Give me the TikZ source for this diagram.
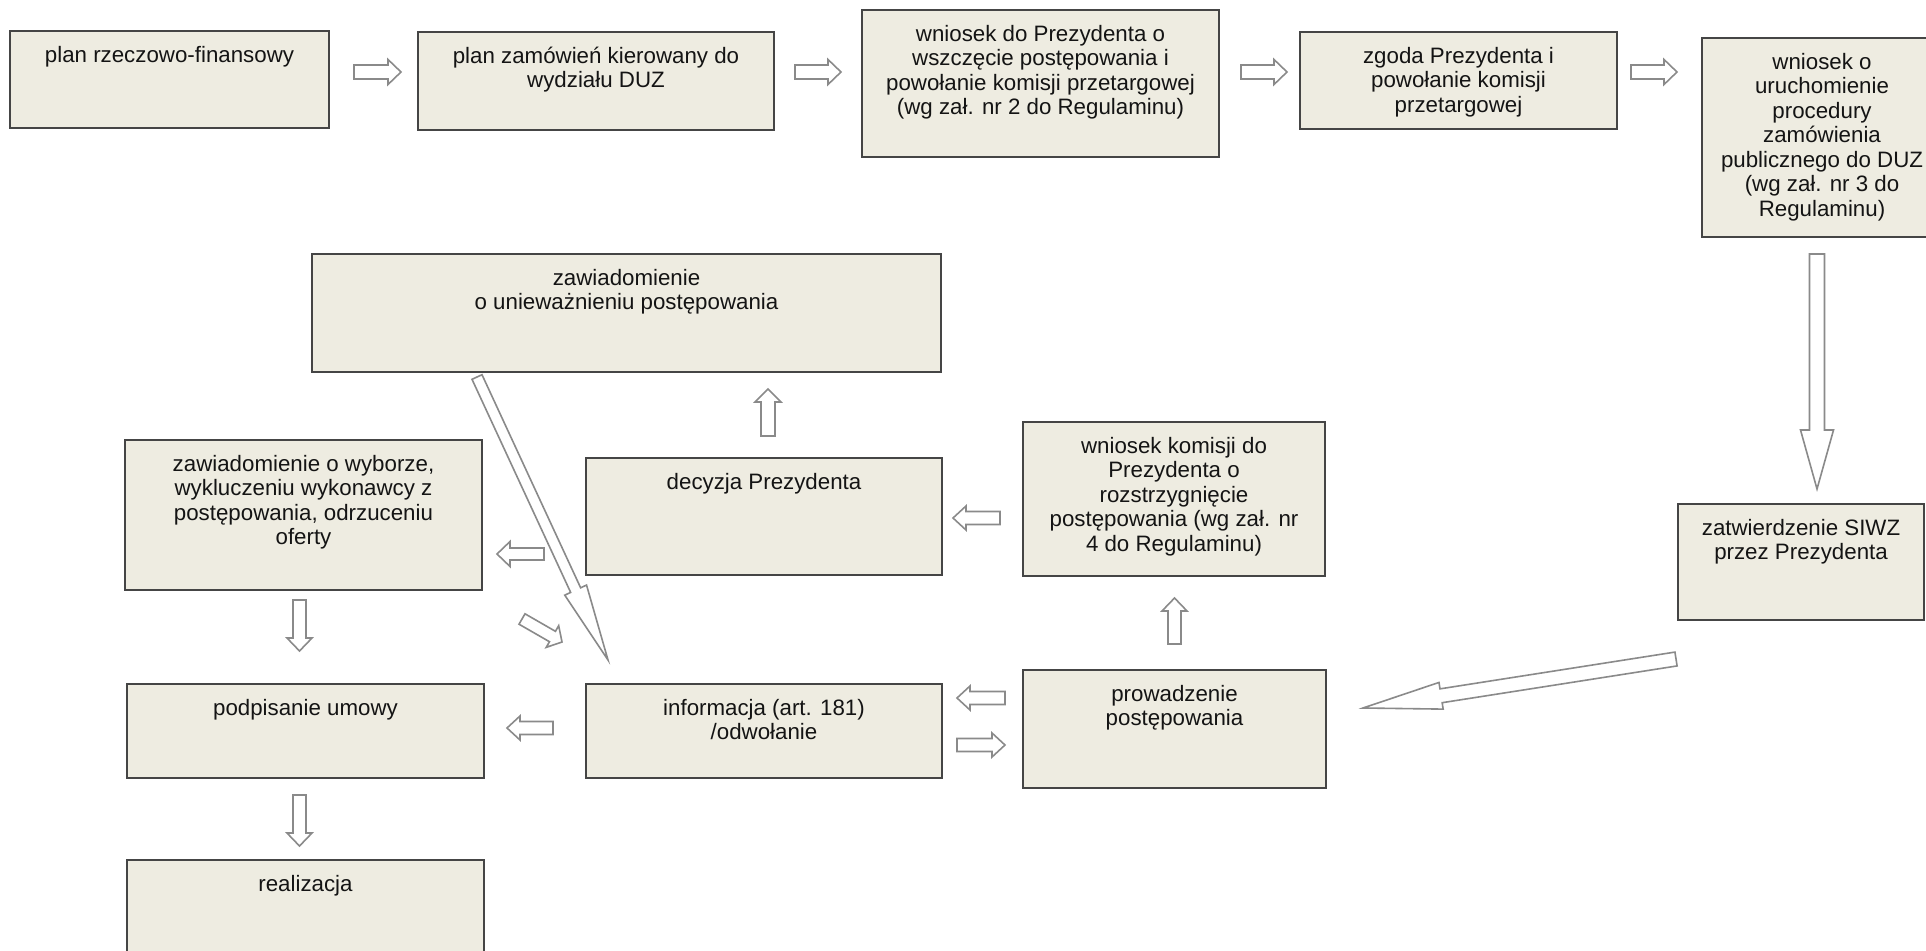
\documentclass[tikz,border=0pt]{standalone}
\usepackage{fontspec}
\setmainfont{Liberation Sans}
\definecolor{boxfill}{HTML}{EEECE1}
\definecolor{boxline}{HTML}{454545}
\definecolor{arrline}{HTML}{8A8A8A}
\tikzset{
 box/.style={draw=boxline, fill=boxfill, line width=2pt, inner sep=0pt, outer sep=0pt},
 txt/.style={align=center, inner sep=0pt, font=\fontsize{22.3}{24.5}\selectfont, text=black!92},
 blockarrow/.style={draw=arrline, fill=white, line width=1.6pt, line join=miter}
}
% box: name, x1, y1, x2, y2, text
\newcommand\mkbox[6]{%
 \pgfmathsetmacro\mbw{#4-#2}\pgfmathsetmacro\mbh{#5-#3}%
 \pgfmathsetmacro\mbx{(#2+#4)/2}\pgfmathsetmacro\mby{(#3+#5)/2}%
 \node[box, minimum width=\mbw pt, minimum height=\mbh pt] (#1) at (\mbx,\mby) {};
 \node[txt, anchor=north] (#1t) at (\mbx,#3+11) {\rule{0pt}{20pt}#6};
}
% block arrow: tail x, tail y, tip x, tip y, shaft width, head width, head length
\newcommand\barrow[7]{%
 \pgfmathsetmacro\bardx{#3-#1}\pgfmathsetmacro\bardy{#4-#2}%
 \pgfmathsetmacro\barlen{veclen(\bardx,\bardy)}%
 \pgfmathsetmacro\barang{atan2(-(\bardy),\bardx)}%
 \begin{scope}[shift={(#1,#2)}, rotate=\barang]
  \draw[blockarrow] (0,-#5/2) -- (\barlen-#7,-#5/2) -- (\barlen-#7,-#6/2) -- (\barlen,0)
    -- (\barlen-#7,#6/2) -- (\barlen-#7,#5/2) -- (0,#5/2) -- cycle;
 \end{scope}
}
\begin{document}
\begin{tikzpicture}[x=1pt,y=-1pt]
\useasboundingbox (0,0) rectangle (1926,950);
\fill[white] (0,0) rectangle (1926,950);

\mkbox{b1}{10}{31}{329}{128}{plan rzeczowo-finansowy}
\mkbox{b2}{418}{32}{774}{130}{plan zamówień kierowany do\\wydziału DUZ}
\mkbox{b3}{862}{10}{1219}{157}{wniosek do Prezydenta o\\wszczęcie postępowania i\\powołanie komisji przetargowej\\(wg zał. nr 2 do Regulaminu)}
\mkbox{b4}{1300}{32}{1617}{129}{zgoda Prezydenta i\\powołanie komisji\\przetargowej}
\mkbox{b5}{1702}{38}{1942}{237}{wniosek o\\uruchomienie\\procedury\\zamówienia\\publicznego do DUZ\\(wg zał. nr 3 do\\Regulaminu)}
\mkbox{b6}{312}{254}{941}{372}{zawiadomienie\\o unieważnieniu postępowania}
\mkbox{b7}{586}{458}{942}{575}{decyzja Prezydenta}
\mkbox{b8}{125}{440}{482}{590}{zawiadomienie o wyborze,\\wykluczeniu wykonawcy z\\postępowania, odrzuceniu\\oferty}
\mkbox{b9}{1023}{422}{1325}{576}{wniosek komisji do\\Prezydenta o\\rozstrzygnięcie\\postępowania (wg zał. nr\\4 do Regulaminu)}
\mkbox{b10}{1678}{504}{1924}{620}{zatwierdzenie SIWZ\\przez Prezydenta}
\mkbox{b11}{1023}{670}{1326}{788}{prowadzenie\\postępowania}
\mkbox{b12}{127}{684}{484}{778}{podpisanie umowy}
\mkbox{b13}{586}{684}{942}{778}{informacja (art. 181)\\/odwołanie}
\mkbox{b14}{127}{860}{484}{965}{realizacja}

% top row
\barrow{354}{72}{401}{72}{14}{25}{13}
\barrow{795}{72}{841}{72}{14}{25}{13}
\barrow{1241}{72}{1287}{72}{14}{25}{13}
\barrow{1631}{72}{1677}{72}{14}{25}{13}
% big down to SIWZ
\barrow{1817}{254}{1817}{489}{15}{33}{59}
% SIWZ to prowadzenie
\barrow{1676}{659}{1363}{708}{14}{27}{79}
% prowadzenie up to wniosek komisji
\barrow{1174.5}{644}{1174.5}{598}{13}{25}{13}
% wniosek komisji left to decyzja
\barrow{1000}{518}{953}{518}{13}{24}{13}
% decyzja up to uniewaznienie
\barrow{768}{436}{768}{389}{14}{26}{13}
% left towards wyborze
\barrow{544}{554}{497}{554}{12}{25}{13}
% long diagonal from uniewaznienie
\barrow{477}{377}{608}{660}{11}{24}{77}
% small diagonal
\barrow{522}{619}{562}{642}{12}{25}{11}
% prowadzenie <-> informacja
\barrow{1005}{698}{957}{698}{13}{24}{13}
\barrow{957}{745}{1005}{745}{13}{24}{13}
% down wyborze -> podpisanie
\barrow{299.5}{600}{299.5}{651}{13}{25}{13}
% informacja -> podpisanie
\barrow{553}{728}{507}{728}{13}{24}{13}
% podpisanie -> realizacja
\barrow{299.5}{795}{299.5}{846}{13}{25}{13}
\end{tikzpicture}
\end{document}
